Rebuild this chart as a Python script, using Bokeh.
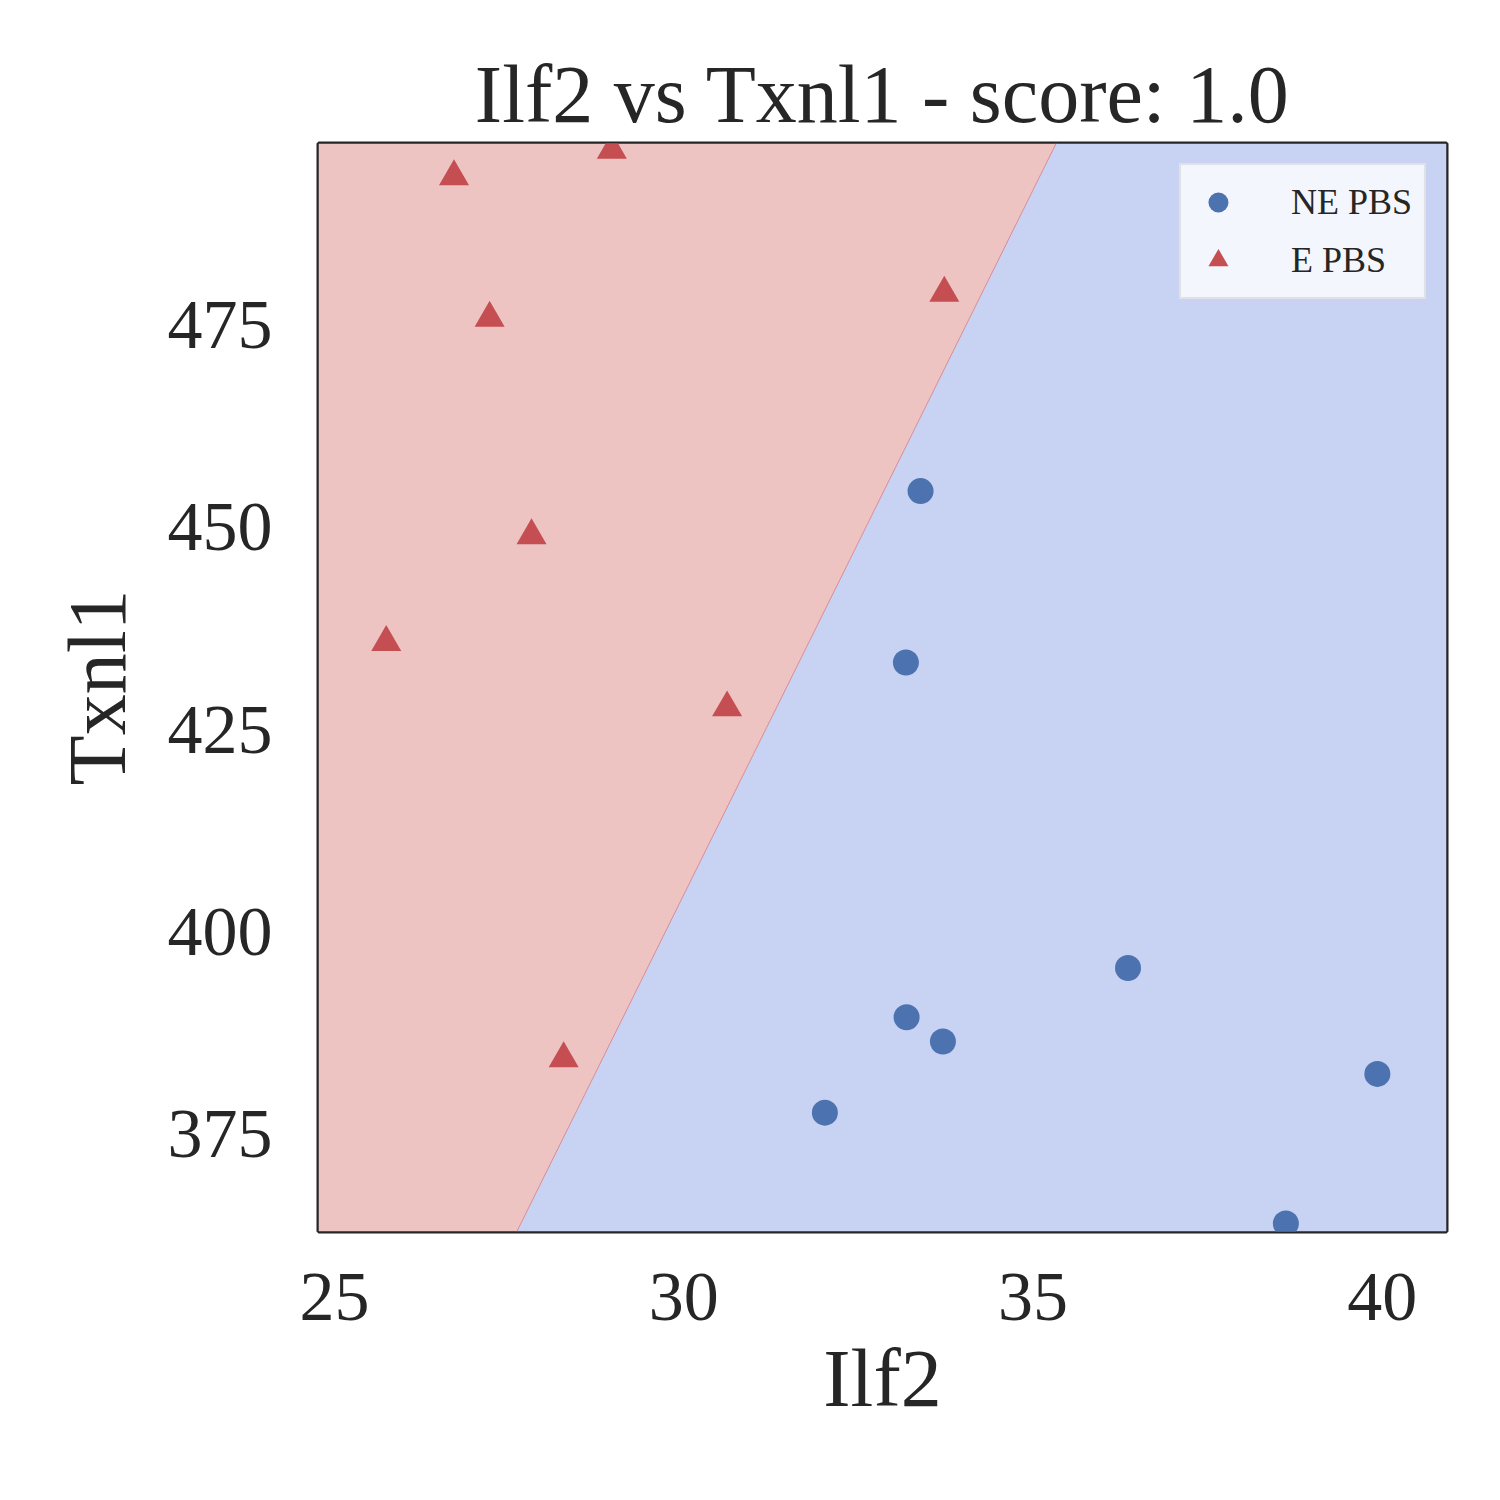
from bokeh.plotting import figure
from bokeh.models import FixedTicker, Legend, LegendItem
from bokeh.embed import file_html
from bokeh.resources import INLINE

ne_x = [33.39, 33.18, 36.36, 33.19, 33.71, 32.02, 39.93, 38.62]
ne_y = [454.5, 433.3, 395.5, 389.4, 386.4, 377.6, 382.4, 363.9]
e_x = [28.97, 26.71, 27.22, 33.73, 27.82, 25.74, 30.62, 28.28]
e_y = [496.7, 493.4, 475.9, 479.0, 449.0, 435.8, 427.7, 384.3]

x_range = (24.77, 40.92)
y_range = (362.9, 497.5)
# decision boundary end points (bottom, top)
bound_x = [27.61, 35.33]

x_ticks = [25, 30, 35, 40]
y_ticks = [375, 400, 425, 450, 475]

font = "Liberation Serif"
dark = "#262626"

p = figure(width=1484, height=1480, x_range=x_range, y_range=y_range,
           output_backend="svg", toolbar_location=None,
           min_border_left=318, min_border_top=143, min_border_right=38, min_border_bottom=249,
           title="Ilf2 vs Txnl1 - score: 1.0")
p.title.text_font = font
p.title.text_font_size = "82px"
p.title.text_font_style = "normal"
p.title.text_color = dark
p.title.align = "center"
p.title.offset = 0
p.title.standoff = 8

x0, x1 = x_range
y0, y1 = y_range
p.patch([x0, bound_x[0], bound_x[1], x0], [y0, y0, y1, y1], fill_color="#eec4c3", line_color=None)
p.patch([bound_x[0], x1, x1, bound_x[1]], [y0, y0, y1, y1], fill_color="#c8d2f2", line_color=None)
p.line(bound_x, [y0, y1], line_color="#d98a95", line_width=1)

r1 = p.scatter(ne_x, ne_y, marker="circle", size=26, fill_color="#4c72b0", line_color=None)
r2 = p.scatter(e_x, e_y, marker="triangle", size=30, fill_color="#c44e52", line_color=None)

legend = Legend(items=[LegendItem(label="NE PBS", renderers=[r1]),
                       LegendItem(label="E PBS", renderers=[r2])],
                location="top_right", label_text_font=font, label_text_font_size="36px",
                label_text_color=dark, background_fill_alpha=0.8,
                border_line_color="#cccccc", border_line_width=2,
                glyph_width=50, glyph_height=50, spacing=8, padding=12, margin=20,
                label_standoff=48)
p.add_layout(legend)

p.grid.visible = False
p.outline_line_color = dark
p.outline_line_width = 4
for ax, ticks in ((p.xaxis, x_ticks), (p.yaxis, y_ticks)):
    ax.ticker = FixedTicker(ticks=ticks)
    ax.axis_line_color = None
    ax.major_tick_line_color = None
    ax.minor_tick_line_color = None
    ax.major_label_text_font = font
    ax.major_label_text_font_size = "70px"
    ax.major_label_text_color = dark
    ax.axis_label_text_font = font
    ax.axis_label_text_font_size = "82px"
    ax.axis_label_text_font_style = "normal"
    ax.axis_label_text_color = dark
p.xaxis.axis_label = "Ilf2"
p.yaxis.axis_label = "Txnl1"
p.xaxis.major_label_standoff = 36
p.yaxis.major_label_standoff = 40
p.xaxis.axis_label_standoff = 10
p.yaxis.axis_label_standoff = 22

open("out.html", "w").write(file_html(p, INLINE))
